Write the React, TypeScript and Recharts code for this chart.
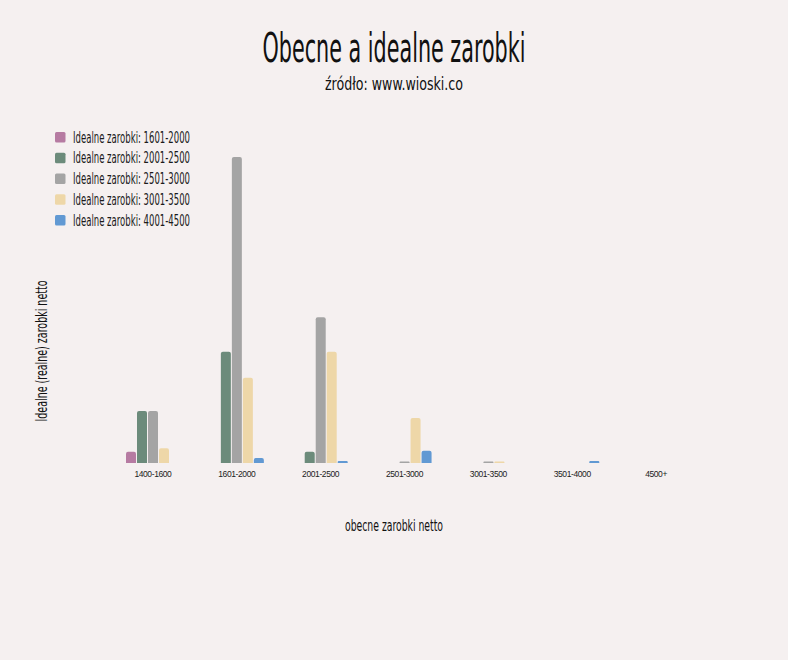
import React from 'react';
import { BarChart, Bar, XAxis, YAxis, Legend } from 'recharts';

const categories = ['1400-1600', '1601-2000', '2001-2500', '2501-3000', '3001-3500', '3501-4000', '4500+'];

const ideal1601_2000 = [2.2, 0, 0, 0, 0, 0, 0];
const ideal2001_2500 = [10.2, 21.8, 2.2, 0, 0, 0, 0];
const ideal2501_3000 = [10.2, 60, 28.6, 0.3, 0.3, 0, 0];
const ideal3001_3500 = [2.9, 16.7, 21.8, 8.8, 0.3, 0, 0];
const ideal4001_4500 = [0, 1, 0.4, 2.4, 0, 0.4, 0];

const series = [
  { key: 's1', name: 'Idealne zarobki: 1601-2000', color: '#b67ba2', values: ideal1601_2000 },
  { key: 's2', name: 'Idealne zarobki: 2001-2500', color: '#6c8b7b', values: ideal2001_2500 },
  { key: 's3', name: 'Idealne zarobki: 2501-3000', color: '#a4a4a4', values: ideal2501_3000 },
  { key: 's4', name: 'Idealne zarobki: 3001-3500', color: '#eed7a8', values: ideal3001_3500 },
  { key: 's5', name: 'Idealne zarobki: 4001-4500', color: '#6199d3', values: ideal4001_4500 },
];

const data = categories.map((cat, i) => {
  const row: Record<string, string | number> = { cat };
  series.forEach(s => { row[s.key] = s.values[i]; });
  return row;
});

const condensed = "'DejaVu Sans Condensed', 'DejaVu Sans', sans-serif";
const BG = '#f5f0f0';

const CatTick = (props: any) => {
  const { x, y, payload } = props;
  return (
    <text x={x} y={y + 6} textAnchor="middle" fontSize={8.5} fill="#222"
      fontFamily="'Liberation Sans', Arial, sans-serif" letterSpacing={-0.4}>
      {payload.value}
    </text>
  );
};

const LegendBox = (props: any) => {
  const items = props.payload || [];
  return (
    <svg width={200} height={110} style={{ display: 'block', overflow: 'visible' }}>
      {items.map((it: any, i: number) => (
        <g key={it.value}>
          <rect x={0} y={2 + i * 20.75} width={10.5} height={10.5} rx={1.5} fill={it.color} />
          <text x={18} y={12.5 + i * 20.75} fontSize={15} fill="#1a1a1a" fontFamily={condensed}
            textLength={117} lengthAdjust="spacingAndGlyphs">
            {it.value}
          </text>
        </g>
      ))}
    </svg>
  );
};

export default function App() {
  return (
    <div style={{ position: 'absolute', left: 0, top: 0, width: 788, height: 660, background: BG }}>
      <BarChart width={788} height={660} data={data} barSize={10} barGap={1}
        margin={{ top: 157, right: 90, bottom: 177, left: 111 }}>
        <XAxis dataKey="cat" axisLine={false} tickLine={false} height={20} tick={<CatTick />} interval={0} />
        <YAxis hide domain={[0, 60]} />
        <Legend content={<LegendBox />} layout="vertical" verticalAlign="middle" align="center"
          wrapperStyle={{ position: 'absolute', left: 55, top: 130, width: 200, height: 110 }} />
        {series.map(s => (
          <Bar key={s.key} dataKey={s.key} name={s.name} fill={s.color}
            radius={[2, 2, 0, 0]} isAnimationActive={false} legendType="square" />
        ))}
      </BarChart>
      <svg width={788} height={660} style={{ position: 'absolute', left: 0, top: 0, pointerEvents: 'none' }}>
        <text x={394} y={62} textAnchor="middle" fontSize={41} fill="#111" fontFamily={condensed}
          textLength={263} lengthAdjust="spacingAndGlyphs">
          Obecne a idealne zarobki
        </text>
        <text x={394} y={90} textAnchor="middle" fontSize={18} fill="#111" fontFamily={condensed}
          textLength={138} lengthAdjust="spacingAndGlyphs">
          źródło: www.wioski.co
        </text>
        <text x={394} y={531} textAnchor="middle" fontSize={16} fill="#111" fontFamily={condensed}
          textLength={98} lengthAdjust="spacingAndGlyphs">
          obecne zarobki netto
        </text>
        <text x={0} y={0} transform="translate(47, 351) rotate(-90)" textAnchor="middle" fontSize={15}
          fill="#111" fontFamily={condensed} textLength={141} lengthAdjust="spacingAndGlyphs">
          Idealne (realne) zarobki netto
        </text>
      </svg>
    </div>
  );
}
